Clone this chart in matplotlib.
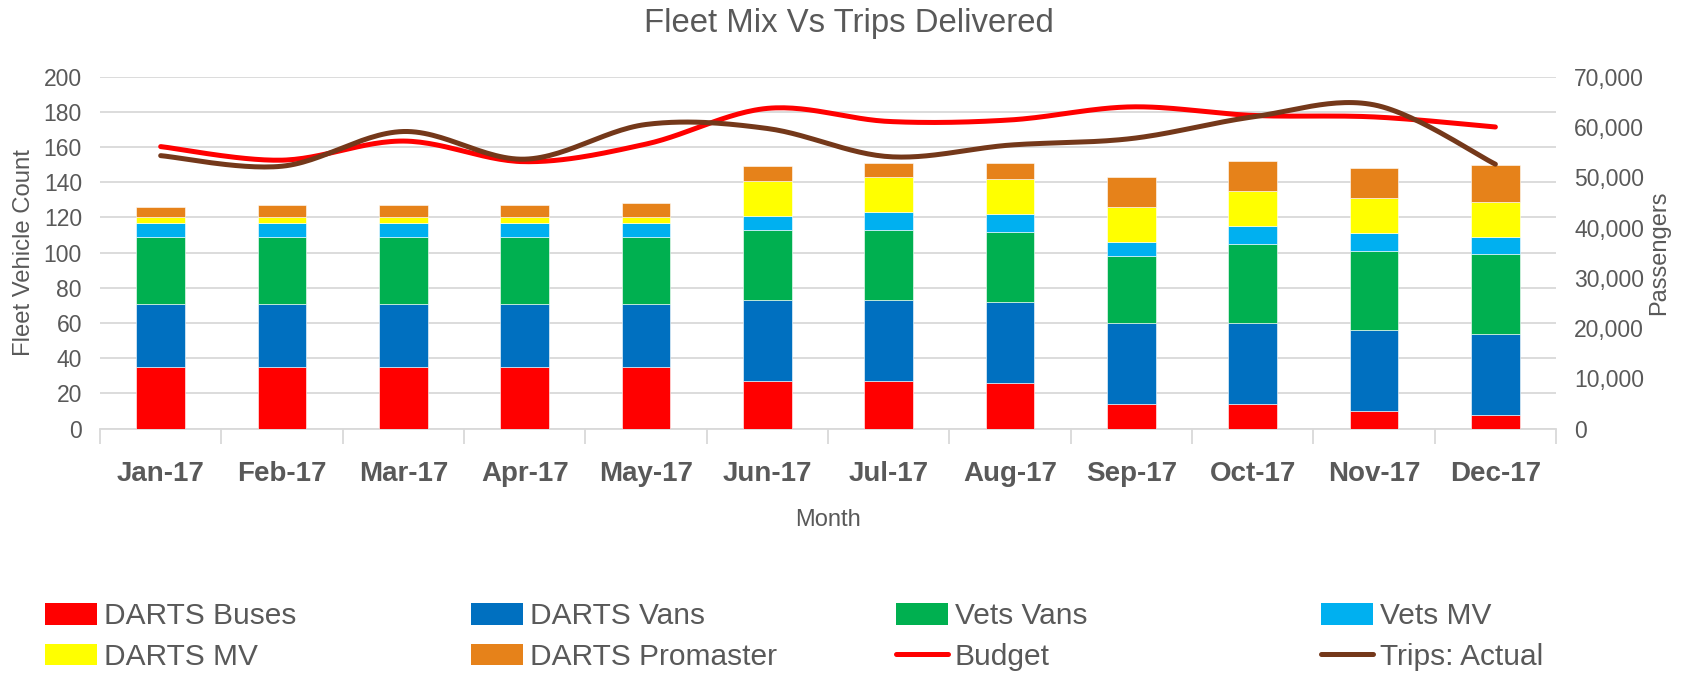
import numpy as np
import matplotlib
matplotlib.use("Agg")
import matplotlib.pyplot as plt
from matplotlib.ticker import FuncFormatter, MultipleLocator
from matplotlib.patches import Patch
from matplotlib.lines import Line2D

plt.rcParams['font.family'] = ['Liberation Sans', 'DejaVu Sans']

months = ["Jan-17", "Feb-17", "Mar-17", "Apr-17", "May-17", "Jun-17",
          "Jul-17", "Aug-17", "Sep-17", "Oct-17", "Nov-17", "Dec-17"]
darts_buses = [35, 35, 35, 35, 35, 27, 27, 26, 14, 14, 10, 8]
darts_vans = [36, 36, 36, 36, 36, 46, 46, 46, 46, 46, 46, 46]
vets_vans = [38, 38, 38, 38, 38, 40, 40, 40, 38, 45, 45, 45]
vets_mv = [8, 8, 8, 8, 8, 8, 10, 10, 8, 10, 10, 10]
darts_mv = [3, 3, 3, 3, 3, 20, 20, 20, 20, 20, 20, 20]
darts_promaster = [6, 7, 7, 7, 8, 8, 8, 9, 17, 17, 17, 21]
budget = [56100, 53400, 57200, 53100, 56600, 63700, 61100, 61400, 64000, 62300, 62000, 60000]
trips_actual = [54300, 52200, 59100, 53600, 60500, 59700, 54100, 56400, 57700, 62000, 64400, 52600]

bar_series = [
    ("DARTS Buses", darts_buses, "#FF0000"),
    ("DARTS Vans", darts_vans, "#0070C0"),
    ("Vets Vans", vets_vans, "#00B050"),
    ("Vets MV", vets_mv, "#00B0F0"),
    ("DARTS MV", darts_mv, "#FFFF00"),
    ("DARTS Promaster", darts_promaster, "#E6821A"),
]
gray = "#595959"
red = "#FF0000"
brown = "#74381A"


def smooth(x, y, n=30):
    # excel-style smoothed line (catmull-rom bezier)
    x = np.asarray(x, float)
    y = np.asarray(y, float)
    px = np.concatenate([[x[0]], x, [x[-1]]])
    py = np.concatenate([[y[0]], y, [y[-1]]])
    xs, ys = [], []
    t = np.linspace(0, 1, n)
    for i in range(1, len(px) - 2):
        p0 = np.array([px[i], py[i]])
        p3 = np.array([px[i + 1], py[i + 1]])
        c1 = p0 + (np.array([px[i + 1], py[i + 1]]) - np.array([px[i - 1], py[i - 1]])) / 6
        c2 = p3 - (np.array([px[i + 2], py[i + 2]]) - np.array([px[i], py[i]])) / 6
        b = ((1 - t) ** 3)[:, None] * p0 + (3 * (1 - t) ** 2 * t)[:, None] * c1 \
            + (3 * (1 - t) * t ** 2)[:, None] * c2 + (t ** 3)[:, None] * p3
        xs.extend(b[:, 0])
        ys.extend(b[:, 1])
    return np.array(xs), np.array(ys)


fig = plt.figure(figsize=(16.98, 6.77), dpi=100)
ax = fig.add_axes([0.0589, 0.3668, 0.8575, 0.5199])
x = np.arange(len(months))

bottom = np.zeros(len(months))
for name, vals, col in bar_series:
    ax.bar(x, vals, 0.4, bottom=bottom, color=col, edgecolor="white", linewidth=0.4, zorder=3)
    bottom += np.array(vals)

ax.set_ylim(0, 200)
ax.set_xlim(-0.5, len(months) - 0.5)
ax.yaxis.set_major_locator(MultipleLocator(20))
ax.grid(axis="y", color="#d9d9d9", linewidth=1.3, zorder=0)
ax.set_axisbelow(True)
for s in ["top", "left", "right"]:
    ax.spines[s].set_visible(False)
ax.spines["bottom"].set_color("#d9d9d9")
ax.spines["bottom"].set_linewidth(1.3)
ax.set_xticks(x)
ax.set_xticklabels(months, fontsize=20, fontweight="bold", color=gray)
ax.tick_params(axis="x", which="major", length=0, pad=23)
ax.set_xticks(np.arange(-0.5, len(months), 1), minor=True)
ax.tick_params(axis="x", which="minor", length=11, color="#d9d9d9", width=1.3)
ax.tick_params(axis="y", length=0, labelsize=16.5, labelcolor=gray, pad=13)
ax.set_ylabel("Fleet Vehicle Count", fontsize=17.2, color=gray, labelpad=6)
ax.set_xlabel("Month", fontsize=17, color=gray, labelpad=16)

ax2 = ax.twinx()
ax2.set_ylim(0, 70000)
ax2.yaxis.set_major_locator(MultipleLocator(10000))
ax2.yaxis.set_major_formatter(FuncFormatter(lambda v, p: f"{int(v):,}"))
ax2.tick_params(axis="y", length=0, labelsize=16.5, labelcolor=gray, pad=13)
for s in ax2.spines.values():
    s.set_visible(False)
ax2.set_ylabel("Passengers", fontsize=17, color=gray, labelpad=3)

bx, by = smooth(x, budget)
ax2.plot(bx, by, color=red, linewidth=3.6, solid_capstyle="round", zorder=4)
tx, ty = smooth(x, trips_actual)
ax2.plot(tx, ty, color=brown, linewidth=3.6, solid_capstyle="round", zorder=5)

fig.text(0.5, 0.953, "Fleet Mix Vs Trips Delivered", ha="center", va="baseline",
         fontsize=23.7, color=gray)

handles = [Patch(facecolor=c, label=n) for n, v, c in bar_series]
handles += [Line2D([], [], color=red, linewidth=3.6, solid_capstyle="round", label="Budget"),
            Line2D([], [], color=brown, linewidth=3.6, solid_capstyle="round", label="Trips: Actual")]
# legend laid out row-wise, one small legend per column
col_x = [45, 471, 896, 1321]
for c in range(4):
    pair = [handles[c], handles[c + 4]]
    leg = fig.legend(pair, [h.get_label() for h in pair], loc="center left",
                     bbox_to_anchor=(col_x[c] / 1698, 0.0598), frameon=False,
                     fontsize=21.5, handlelength=1.74, handleheight=0.74,
                     handletextpad=0.22, labelspacing=0.42, borderpad=0,
                     borderaxespad=0)
    for t in leg.get_texts():
        t.set_color(gray)

fig.savefig("out.png", dpi=100)
